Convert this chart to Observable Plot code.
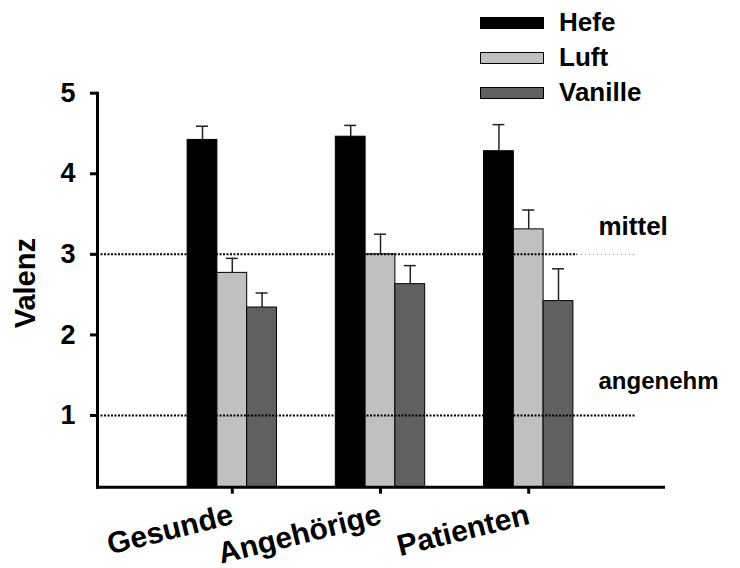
<!DOCTYPE html>
<html><head><meta charset="utf-8">
<script src="https://cdn.jsdelivr.net/npm/d3@7"></script>
<script src="https://cdn.jsdelivr.net/npm/@observablehq/plot@0.6"></script>
<style>
body{margin:0;background:#fff;}
#wrap{position:relative;width:740px;height:568px;font-family:"Liberation Sans",Arial,sans-serif;}
#chart{position:absolute;left:0;top:0;}
#legend{position:absolute;left:480px;top:5px;z-index:2;}
.row{display:flex;align-items:center;height:35px;}
.sw{width:62px;height:10px;border:1px solid #000;}
.lab{margin-left:15px;font-size:26px;font-weight:bold;color:#000;line-height:35px;}
</style></head><body>
<div id="wrap"><div id="chart"></div><div id="legend"></div></div>
<script>
const groups = ["Gesunde", "Angehörige", "Patienten"];
const series = ["Hefe", "Luft", "Vanille"];
const hefe = [4.42, 4.46, 4.28];
const hefeErr = [0.17, 0.14, 0.33];
const luft = [2.77, 3.00, 3.31];
const luftErr = [0.18, 0.25, 0.24];
const vanille = [2.34, 2.63, 2.42];
const vanilleErr = [0.18, 0.23, 0.40];
const yTicks = [1, 2, 3, 4, 5];
const yDomain = [0.11, 5];
const refLevels = [1, 3];
const refLabels = ["angenehm", "mittel"];
const refLabelY = [1.43, 3.34];
const refLabelSize = [24, 26];
const colors = ["#000000", "#c0c0c0", "#606060"];

const values = [hefe, luft, vanille];
const errs = [hefeErr, luftErr, vanilleErr];
const rows = series.map((s, k) => groups.map((g, i) => ({group: g, series: s, value: values[k][i], err: errs[k][i]})));

const W = 740, H = 568, mL = 97, mR = 77, mT = 92.7, mB = 81.3;
const pIn = 0.397, pOut = 0.608;
const step = (W - mL - mR) / (groups.length - pIn + 2 * pOut);
const bw = step * (1 - pIn);
const w = bw / series.length;
const cap = 12;

const plot = Plot.plot({
  width: W, height: H,
  marginLeft: mL, marginRight: mR, marginTop: mT, marginBottom: mB,
  style: {fontFamily: "Liberation Sans, Arial, sans-serif", fontWeight: "bold", color: "#000", background: "transparent", overflow: "visible"},
  x: {domain: groups, paddingInner: pIn, paddingOuter: pOut, round: false},
  y: {domain: yDomain},
  marks: [
    ...rows.map((r, k) => Plot.barY(r, {x: "group", y1: yDomain[0], y2: "value", fill: colors[k], stroke: "#000", strokeWidth: 1,
      insetLeft: k * w, insetRight: (series.length - 1 - k) * w})),
    ...rows.map((r, k) => Plot.ruleX(r, {x: "group", y1: "value", y2: d => d.value + d.err, dx: (k - 1) * w, stroke: "#222", strokeWidth: 1.5})),
    ...rows.map((r, k) => Plot.tickY(r, {x: "group", y: d => d.value + d.err, dx: (k - 1) * w,
      insetLeft: (bw - cap) / 2, insetRight: (bw - cap) / 2, stroke: "#222", strokeWidth: 1.5})),
    Plot.ruleY([refLevels[0]], {insetRight: 27, stroke: "#000", strokeWidth: 2, strokeDasharray: "2 1.5"}),
    Plot.ruleY([refLevels[1]], {insetRight: 86, stroke: "#000", strokeWidth: 2, strokeDasharray: "2 1.5"}),
    Plot.ruleY([refLevels[1]], {insetLeft: 480, insetRight: 27, stroke: "#888", strokeWidth: 1, strokeDasharray: "1 3"}),
    ...refLabels.map((t, i) => Plot.text([t], {y: () => refLabelY[i], text: d => d, frameAnchor: "right", textAnchor: "start", dx: -65, fontSize: refLabelSize[i]})),
    Plot.text(["Valenz"], {text: d => d, frameAnchor: "left", textAnchor: "middle", dx: -72, dy: -7, rotate: -90, fontSize: 29}),
    Plot.frame({anchor: "left", strokeWidth: 3}),
    Plot.frame({anchor: "bottom", strokeWidth: 3}),
    Plot.axisY({ticks: yTicks, tickFormat: d => String(d), tickSize: 7, tickPadding: 15, strokeWidth: 3, fontSize: 27, label: null}),
    Plot.axisX({tickSize: 7, tickPadding: 20, strokeWidth: 3, tickRotate: -14, fontSize: 30, label: null})
  ]
});
document.getElementById("chart").appendChild(plot);

const legend = document.getElementById("legend");
series.forEach((s, k) => {
  const row = document.createElement("div");
  row.className = "row";
  const sw = document.createElement("div");
  sw.className = "sw";
  sw.style.background = colors[k];
  const lab = document.createElement("span");
  lab.className = "lab";
  lab.textContent = s;
  row.appendChild(sw); row.appendChild(lab);
  legend.appendChild(row);
});
</script>
</body></html>
